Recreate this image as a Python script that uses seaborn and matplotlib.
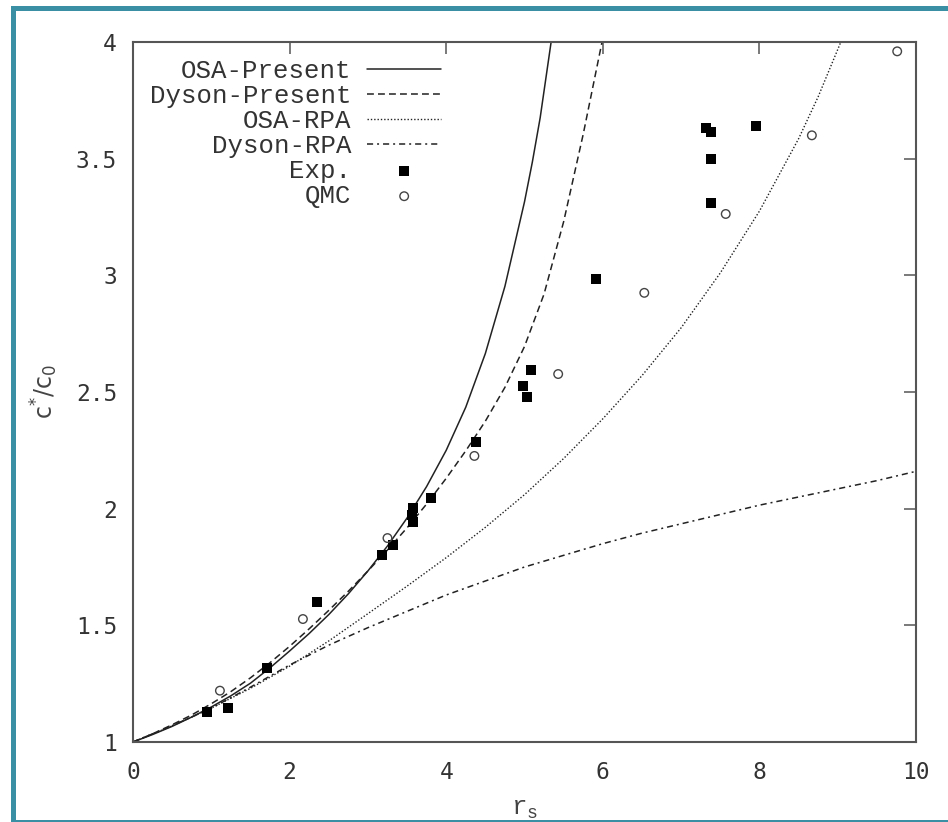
import matplotlib
matplotlib.use("Agg")
import matplotlib.pyplot as plt
from matplotlib.patches import Rectangle
from matplotlib.ticker import FuncFormatter
import seaborn as sns

# curves (r_s, c*/c0)
osa_present_x = [0, 0.25, 0.5, 0.75, 1.0, 1.25, 1.5, 1.75, 2.0, 2.25, 2.5, 2.75, 3.0, 3.25, 3.5, 3.75,
                 4.0, 4.25, 4.5, 4.75, 5.0, 5.1, 5.2, 5.34]
osa_present_y = [1.0, 1.032, 1.067, 1.107, 1.150, 1.198, 1.252, 1.318, 1.39, 1.465, 1.546, 1.635, 1.733,
                 1.840, 1.960, 2.095, 2.25, 2.435, 2.665, 2.953, 3.315, 3.485, 3.675, 4.0]

dyson_present_x = [0, 0.25, 0.5, 0.75, 1.0, 1.25, 1.5, 1.75, 2.0, 2.25, 2.5, 2.75, 3.0, 3.25, 3.5, 3.75,
                   4.0, 4.25, 4.5, 4.75, 5.0, 5.25, 5.5, 5.75, 5.99]
dyson_present_y = [1.0, 1.035, 1.074, 1.116, 1.164, 1.216, 1.275, 1.34, 1.41, 1.485, 1.564, 1.646, 1.733,
                   1.823, 1.918, 2.02, 2.13, 2.248, 2.375, 2.52, 2.695, 2.92, 3.23, 3.605, 4.0]

osa_rpa_x = [0, 0.5, 1, 1.5, 2, 2.5, 3, 3.5, 4, 4.5, 5, 5.5, 6, 6.5, 7, 7.5, 8, 8.5, 8.75, 9.04]
osa_rpa_y = [1.0, 1.069, 1.145, 1.23, 1.325, 1.433, 1.55, 1.668, 1.79, 1.92, 2.06, 2.215, 2.385, 2.57,
             2.775, 3.01, 3.275, 3.585, 3.765, 4.0]

dyson_rpa_x = [0, 0.5, 1, 1.5, 2, 2.5, 3, 3.5, 4, 4.5, 5, 5.5, 6, 6.5, 7, 7.5, 8, 8.5, 9, 9.5, 10]
dyson_rpa_y = [1.0, 1.07, 1.145, 1.235, 1.33, 1.415, 1.49, 1.56, 1.63, 1.69, 1.75, 1.80, 1.85, 1.895,
               1.935, 1.975, 2.015, 2.05, 2.085, 2.12, 2.16]

# experimental points (filled squares)
exp_x = [0.94, 1.21, 1.71, 2.35, 3.18, 3.32, 3.58, 3.56, 3.57, 3.81, 4.38, 4.98, 5.03, 5.08, 5.91,
         7.32, 7.38, 7.38, 7.38, 7.96]
exp_y = [1.13, 1.146, 1.317, 1.60, 1.80, 1.845, 2.003, 1.973, 1.943, 2.046, 2.286, 2.526, 2.48, 2.594, 2.985,
         3.63, 3.615, 3.50, 3.31, 3.64]

# QMC points (open circles)
qmc_x = [1.11, 2.17, 3.25, 4.36, 5.43, 6.53, 7.57, 8.67, 9.76]
qmc_y = [1.22, 1.527, 1.874, 2.226, 2.577, 2.925, 3.263, 3.60, 3.96]

sns.set_theme(style="white")
plt.rcParams['font.family'] = ['DejaVu Sans Mono', 'DejaVu Sans']

W, H = 948, 822
fig = plt.figure(figsize=(W / 100, H / 100), dpi=100)
fig.patch.set_facecolor('white')
ax = fig.add_axes([133 / W, 80 / H, 783 / W, 700 / H])

line_col = '#222222'
sns.lineplot(x=osa_present_x, y=osa_present_y, ax=ax, color=line_col, linewidth=1.1,
             linestyle='-', label='OSA-Present')
sns.lineplot(x=dyson_present_x, y=dyson_present_y, ax=ax, color=line_col, linewidth=1.1,
             linestyle=(0, (4.5, 2.7)), label='Dyson-Present')
sns.lineplot(x=osa_rpa_x, y=osa_rpa_y, ax=ax, color=line_col, linewidth=1.0,
             linestyle=(0, (1.0, 1.4)), label='OSA-RPA')
sns.lineplot(x=dyson_rpa_x, y=dyson_rpa_y, ax=ax, color=line_col, linewidth=1.1,
             linestyle=(0, (4.0, 2.6, 1.3, 2.6)), label='Dyson-RPA')
sns.scatterplot(x=exp_x, y=exp_y, ax=ax, marker='s', s=48, color='black', edgecolor='black',
                linewidth=0, label='Exp.', zorder=5)
sns.scatterplot(x=qmc_x, y=qmc_y, ax=ax, marker='o', s=38, color='#444444', facecolor='none',
                edgecolor='#444444', linewidth=1.0, label='QMC', zorder=5)

ax.set_xlim(0, 10)
ax.set_ylim(1, 4)
ax.set_xticks([0, 2, 4, 6, 8, 10])
ax.set_yticks([1, 1.5, 2, 2.5, 3, 3.5, 4])
ax.yaxis.set_major_formatter(FuncFormatter(lambda v, p: '%g' % v))

for s in ax.spines.values():
    s.set_color('#555555')
    s.set_linewidth(1.5)
ax.tick_params(direction='in', length=8.5, width=1.1, top=True, right=True,
               color='#555555', labelcolor='#333333', labelsize=16.5)
ax.tick_params(axis='x', pad=13.5)
ax.tick_params(axis='y', pad=11.5)
ax.grid(False)

ax.set_ylabel(r'$\mathregular{c^{*}/c_{0}}$', fontsize=17, color='#444444', family='DejaVu Sans')
ax.yaxis.set_label_coords(-0.093, 0.5)
ax.set_xlabel(r'$\mathregular{r_s}$', fontsize=18.5, color='#444444', family='Liberation Mono')
ax.xaxis.set_label_coords(0.5, -0.078)

leg = ax.legend(loc='upper left', bbox_to_anchor=(0.0217, 0.976), borderaxespad=0, borderpad=0,
                frameon=False, markerfirst=False, handlelength=2.9, handletextpad=0.6,
                labelspacing=0.04, prop={'family': 'Liberation Mono', 'size': 18.5})
for t in leg.get_texts():
    t.set_color('#333333')

# teal frame around the picture
teal = '#3a8fa5'
fig.add_artist(Rectangle((11 / W, 0), 5 / W, 1 - 6 / H, transform=fig.transFigure,
                         facecolor=teal, edgecolor='none', zorder=20))
fig.add_artist(Rectangle((11 / W, 1 - 11 / H), 1, 5 / H, transform=fig.transFigure,
                         facecolor=teal, edgecolor='none', zorder=20))
fig.add_artist(Rectangle((11 / W, 0), 1, 2.5 / H, transform=fig.transFigure,
                         facecolor=teal, edgecolor='none', zorder=20))

fig.savefig('out.png', dpi=100)
